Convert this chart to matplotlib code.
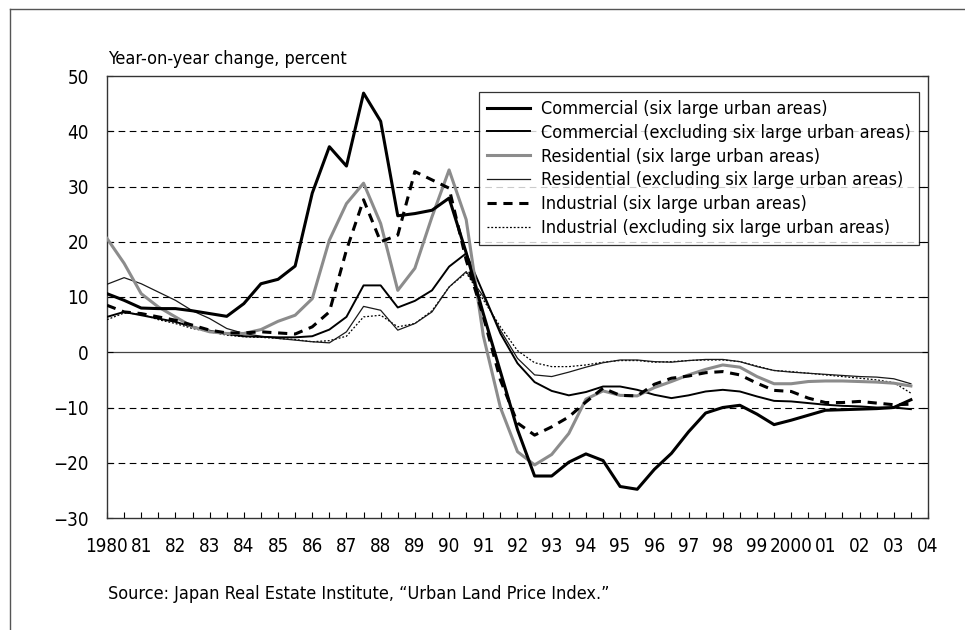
import numpy as np
import matplotlib
matplotlib.use("Agg")
import matplotlib.pyplot as plt
from matplotlib.lines import Line2D
from matplotlib import font_manager

# pick a condensed face if one is installed, the reference uses a narrow sans
fonts = font_manager.fontManager.ttflist
names = {f.name for f in fonts}
stretch = 'normal'
size = 12.5
if 'Liberation Sans Narrow' in names:
    family = 'Liberation Sans Narrow'
    size = 14.5
elif any(f.name == 'DejaVu Sans' and str(f.stretch) in ('condensed', 'semi-condensed') for f in fonts):
    family = 'DejaVu Sans'
    stretch = 'condensed'
    size = 13.0
else:
    family = 'Liberation Sans'
plt.rcParams['font.family'] = [family, 'DejaVu Sans']
plt.rcParams['font.stretch'] = stretch

# half-year observations, 1980 to 2003 second half
periods = np.arange(1980.0, 2004.0, 0.5)

commercial_six = [10.6, 9.4, 8.0, 7.9, 7.9, 7.5, 7.0, 6.5, 8.8, 12.4, 13.2, 15.6,
                  28.8, 37.2, 33.7, 46.9, 41.8, 24.7, 25.1, 25.7, 27.9, 18.0, 7.0, -3.5,
                  -14.0, -22.4, -22.4, -19.9, -18.4, -19.6, -24.3, -24.8, -21.2, -18.3, -14.4, -11.0,
                  -10.0, -9.6, -11.2, -13.1, -12.3, -11.4, -10.5, -10.4, -10.3, -10.2, -10.0, -8.6]
commercial_excl = [6.4, 7.3, 6.7, 6.1, 5.5, 4.6, 3.9, 3.3, 2.9, 2.8, 2.7, 2.7,
                   2.9, 4.1, 6.4, 12.1, 12.1, 8.1, 9.3, 11.2, 15.5, 17.9, 10.7, 3.4,
                   -2.0, -5.4, -7.0, -7.8, -7.2, -6.2, -6.2, -6.8, -7.7, -8.3, -7.8, -7.1,
                   -6.8, -7.1, -8.0, -8.8, -8.9, -9.2, -9.5, -9.7, -9.8, -10.0, -10.0, -10.3]
residential_six = [20.6, 16.1, 10.6, 8.2, 6.4, 4.6, 3.7, 3.4, 3.4, 4.1, 5.6, 6.7,
                   9.7, 20.3, 26.9, 30.6, 23.3, 11.2, 15.2, 24.5, 33.0, 24.0, 3.0, -10.0,
                   -18.0, -20.4, -18.5, -14.7, -8.5, -7.0, -7.8, -7.9, -6.4, -5.3, -4.1, -3.1,
                   -2.3, -2.7, -4.4, -5.7, -5.7, -5.3, -5.2, -5.2, -5.3, -5.4, -5.6, -6.1]
residential_excl = [12.3, 13.5, 12.4, 10.9, 9.4, 7.5, 6.1, 4.3, 3.4, 2.9, 2.5, 2.2,
                    1.9, 1.7, 3.7, 8.3, 7.6, 4.0, 5.2, 7.3, 11.8, 14.6, 10.1, 4.0,
                    -1.1, -4.1, -4.4, -3.6, -2.7, -1.9, -1.4, -1.4, -1.7, -1.8, -1.5, -1.3,
                    -1.3, -1.7, -2.6, -3.3, -3.6, -3.8, -4.0, -4.2, -4.4, -4.5, -4.8, -5.7]
industrial_six = [8.5, 7.3, 7.0, 6.4, 5.8, 4.9, 4.0, 3.5, 3.5, 3.7, 3.5, 3.3,
                  4.6, 7.3, 18.5, 27.6, 20.0, 21.2, 32.7, 31.2, 29.7, 16.7, 6.5, -5.0,
                  -12.8, -15.0, -13.5, -11.7, -9.0, -6.5, -7.8, -7.9, -5.8, -4.7, -4.3, -3.7,
                  -3.5, -4.1, -5.6, -6.9, -7.1, -8.3, -9.1, -9.1, -8.9, -9.2, -9.5, -9.4]
industrial_excl = [5.9, 7.1, 6.9, 5.9, 5.2, 4.3, 3.7, 3.1, 2.8, 2.7, 2.5, 2.3,
                   1.9, 2.1, 2.9, 6.4, 6.7, 4.6, 5.2, 7.5, 11.8, 14.4, 9.5, 4.6,
                   0.3, -1.9, -2.6, -2.6, -2.3, -1.8, -1.5, -1.5, -1.8, -1.7, -1.5, -1.4,
                   -1.4, -1.7, -2.5, -3.3, -3.5, -3.8, -4.1, -4.4, -4.7, -5.0, -5.5, -7.4]

labels = ["Commercial (six large urban areas)",
          "Commercial (excluding six large urban areas)",
          "Residential (six large urban areas)",
          "Residential (excluding six large urban areas)",
          "Industrial (six large urban areas)",
          "Industrial (excluding six large urban areas)"]

year_labels = ["1980", "81", "82", "83", "84", "85", "86", "87", "88", "89", "90", "91",
               "92", "93", "94", "95", "96", "97", "98", "99", "2000", "01", "02", "03", "04"]

fig = plt.figure(figsize=(9.65, 6.3), dpi=100)
ax = fig.add_axes([107/965, 1 - 518/630, 821/965, 442/630])

# frame around the whole figure
fig.add_artist(Line2D([10/965, 1.0], [1 - 9/630, 1 - 9/630], color='#555555', lw=1.0))
fig.add_artist(Line2D([10/965, 10/965], [0.0, 1 - 9/630], color='#555555', lw=1.0))

for v in [40, 30, 20, 10, -10, -20]:
    ax.axhline(v, color='black', lw=0.8, dashes=(6, 4), zorder=1)
ax.axhline(0, color='#444444', lw=0.9, zorder=1)

ax.plot(periods, industrial_excl, color='black', lw=0.9, dashes=(1.5, 1.5), label=labels[5], zorder=3)
ax.plot(periods, residential_excl, color='#1a1a1a', lw=0.9, label=labels[3], zorder=3)
ax.plot(periods, commercial_excl, color='black', lw=1.4, label=labels[1], zorder=3)
ax.plot(periods, residential_six, color='#8c8c8c', lw=2.2, label=labels[2], zorder=4)
ax.plot(periods, industrial_six, color='black', lw=2.2, dashes=(3, 2.2), label=labels[4], zorder=5)
ax.plot(periods, commercial_six, color='black', lw=2.2, label=labels[0], zorder=6)

ax.set_xlim(1980, 2004)
ax.set_ylim(-30, 50)
ax.set_yticks(range(-30, 51, 10))
xticks = np.arange(1980, 2004.01, 0.5)
ax.set_xticks(xticks)
ax.set_xticklabels([year_labels[k // 2] if k % 2 == 0 else "" for k in range(len(xticks))])

ax.tick_params(axis='x', direction='in', length=4, width=0.8, pad=14, labelsize=size + 0.5)
ax.tick_params(axis='y', direction='in', length=4, width=0.8, pad=13, labelsize=size + 0.5,
               right=True)
for s in ax.spines.values():
    s.set_color('#333333')
    s.set_linewidth(1.0)

handles, labs = ax.get_legend_handles_labels()
pairs = sorted(zip([labels.index(l) for l in labs], handles, labs))
leg = ax.legend([p[1] for p in pairs], [p[2] for p in pairs],
                loc='upper right', bbox_to_anchor=(0.989, 0.964), borderaxespad=0,
                fontsize=size, frameon=True, fancybox=False, handlelength=2.4,
                handletextpad=0.6, labelspacing=0.32, borderpad=0.45)
leg.get_frame().set_edgecolor('black')
leg.get_frame().set_linewidth(0.9)

fig.text(108/965, 1 - 64/630, "Year-on-year change, percent", fontsize=size, va='baseline', ha='left')
fig.text(108/965, 1 - 594/630, "Source: Japan Real Estate Institute, \u201cUrban Land Price Index.\u201d",
         fontsize=size, va='center', ha='left')

fig.savefig("out.png", dpi=100)
